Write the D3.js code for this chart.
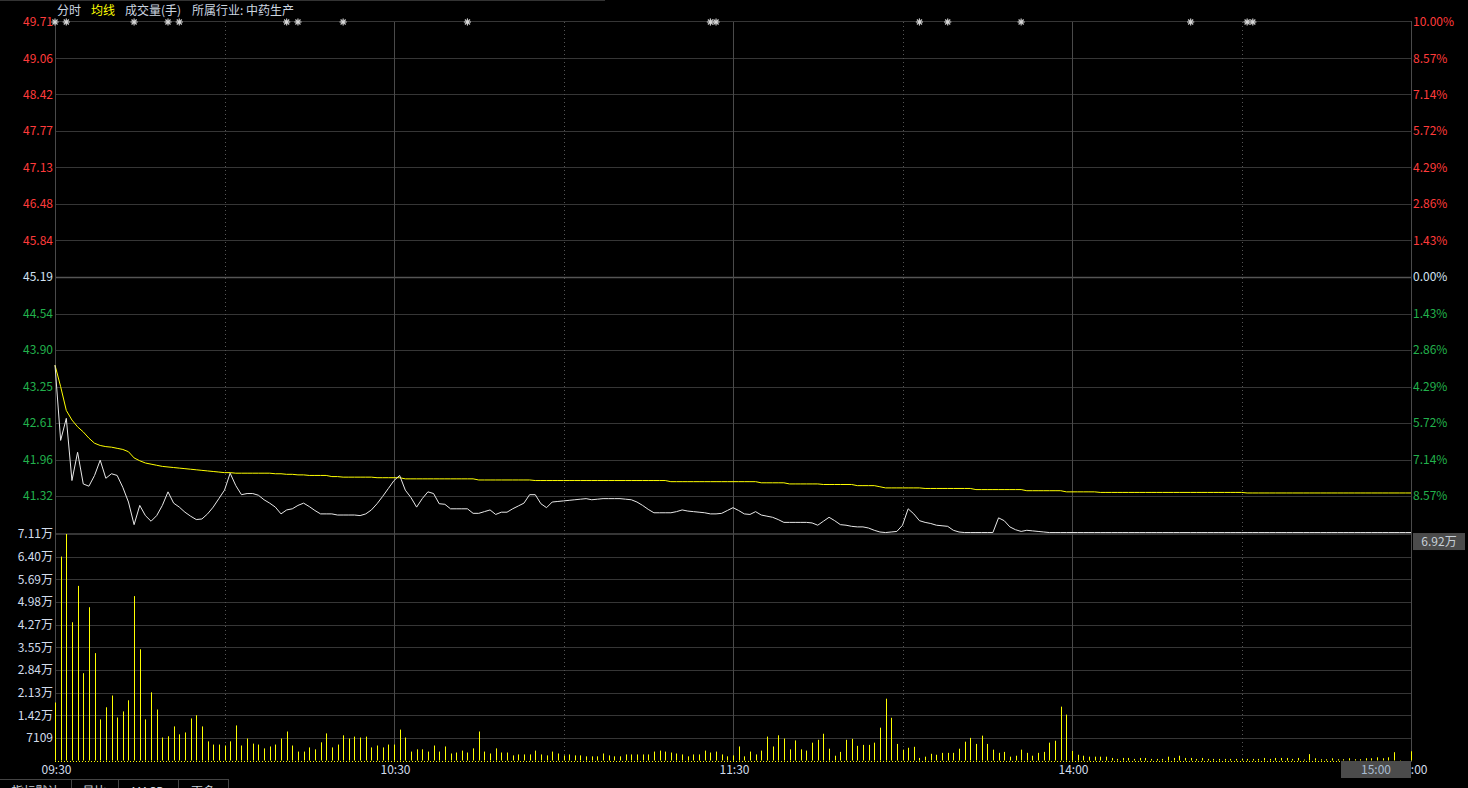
<!DOCTYPE html>
<html>
<head>
<meta charset="utf-8">
<script src="https://cdn.jsdelivr.net/npm/d3@7"></script>
<style>
    body { margin: 0; background: #000; overflow: hidden; }
    svg { display: block; }
    text { font-family: 'Microsoft YaHei', 'Noto Sans CJK SC', sans-serif; font-size: 12px; }
</style>
</head>
<body>
<svg id="chart" width="1468" height="788"></svg>
<script>
const prevClose = 45.19

// left / right axis of the price panel
const priceTicks = [49.71, 49.06, 48.42, 47.77, 47.13, 46.48, 45.84, 45.19, 44.54, 43.90, 43.25, 42.61, 41.96, 41.32, 40.67]
const pctLabels = ['10.00%', '8.57%', '7.14%', '5.72%', '4.29%', '2.86%', '1.43%', '0.00%', '1.43%', '2.86%', '4.29%', '5.72%', '7.14%', '8.57%', '']

// volume axis (hands)
const volTicks = [71090, 63981, 56872, 49763, 42654, 35545, 28436, 21327, 14218, 7109]

// minute index -> label
const timeIdx = [0, 60, 120, 180, 240]
const timeText = ['09:30', '10:30', '11:30', '14:00', '15:00']
const solidIdx = [60, 120, 180]
const dottedIdx = [30, 90, 150, 210]

// event markers (minute index)
const markers = [0, 2, 14, 20, 22, 41, 43, 51, 73, 116, 117, 153, 158, 171, 201, 211, 212]

// one value per minute, 09:30 .. 11:30, 13:01 .. 15:00
const price = [
    43.63, 42.30, 42.69, 41.59, 42.09, 41.53, 41.49, 41.68, 41.95, 41.63,
    41.71, 41.68, 41.47, 41.21, 40.81, 41.15, 40.97, 40.87, 40.97, 41.15,
    41.39, 41.19, 41.12, 41.03, 40.96, 40.90, 40.91, 41.00, 41.12, 41.27,
    41.42, 41.72, 41.50, 41.34, 41.36, 41.36, 41.33, 41.25, 41.19, 41.12,
    41.00, 41.07, 41.09, 41.15, 41.19, 41.13, 41.06, 41.00, 41.00, 41.00,
    40.98, 40.98, 40.98, 40.98, 40.97, 41.00, 41.07, 41.18, 41.31, 41.45,
    41.59, 41.68, 41.42, 41.29, 41.12, 41.27, 41.39, 41.36, 41.18, 41.17,
    41.09, 41.09, 41.09, 41.09, 41.01, 41.01, 41.04, 41.07, 40.99, 41.03,
    41.03, 41.09, 41.14, 41.19, 41.34, 41.34, 41.18, 41.11, 41.21, 41.22,
    41.23, 41.24, 41.25, 41.26, 41.27, 41.25, 41.26, 41.27, 41.27, 41.27,
    41.27, 41.26, 41.25, 41.21, 41.15, 41.08, 41.02, 41.02, 41.02, 41.02,
    41.04, 41.07, 41.05, 41.04, 41.03, 41.02, 41.00, 41.00, 41.01, 41.06,
    41.11, 41.06, 41.00, 40.99, 41.04, 40.98, 40.96, 40.94, 40.90, 40.85,
    40.85, 40.85, 40.85, 40.85, 40.84, 40.80, 40.87, 40.94, 40.88, 40.81,
    40.80, 40.78, 40.77, 40.77, 40.75, 40.71, 40.68, 40.67, 40.68, 40.69,
    40.80, 41.09, 41.00, 40.88, 40.85, 40.83, 40.80, 40.79, 40.78, 40.71,
    40.68, 40.67, 40.67, 40.67, 40.67, 40.67, 40.67, 40.93, 40.88, 40.77,
    40.72, 40.69, 40.71, 40.70, 40.69, 40.68, 40.67, 40.67, 40.67, 40.67,
    40.67, 40.67, 40.67, 40.67, 40.67, 40.67, 40.67, 40.67, 40.67, 40.67,
    40.67, 40.67, 40.67, 40.67, 40.67, 40.67, 40.67, 40.67, 40.67, 40.67,
    40.67, 40.67, 40.67, 40.67, 40.67, 40.67, 40.67, 40.67, 40.67, 40.67,
    40.67, 40.67, 40.67, 40.67, 40.67, 40.67, 40.67, 40.67, 40.67, 40.67,
    40.67, 40.67, 40.67, 40.67, 40.67, 40.67, 40.67, 40.67, 40.67, 40.67,
    40.67, 40.67, 40.67, 40.67, 40.67, 40.67, 40.67, 40.67, 40.67, 40.67,
    40.67
]

const avgPrice = [
    43.63, 43.25, 42.83, 42.66, 42.54, 42.45, 42.34, 42.25, 42.21, 42.19,
    42.18, 42.16, 42.14, 42.10, 41.99, 41.94, 41.90, 41.88, 41.86, 41.84,
    41.83, 41.82, 41.81, 41.80, 41.79, 41.78, 41.77, 41.76, 41.75, 41.74,
    41.73, 41.73, 41.72, 41.72, 41.72, 41.72, 41.72, 41.72, 41.72, 41.71,
    41.71, 41.70, 41.70, 41.69, 41.69, 41.68, 41.68, 41.68, 41.68, 41.66,
    41.66, 41.65, 41.65, 41.65, 41.65, 41.65, 41.65, 41.64, 41.64, 41.64,
    41.64, 41.64, 41.62, 41.62, 41.62, 41.62, 41.62, 41.62, 41.62, 41.62,
    41.62, 41.62, 41.62, 41.62, 41.62, 41.60, 41.60, 41.60, 41.60, 41.60,
    41.60, 41.60, 41.60, 41.60, 41.60, 41.59, 41.59, 41.59, 41.59, 41.59,
    41.59, 41.59, 41.59, 41.59, 41.59, 41.59, 41.59, 41.59, 41.59, 41.59,
    41.59, 41.59, 41.59, 41.59, 41.59, 41.59, 41.59, 41.59, 41.59, 41.57,
    41.57, 41.57, 41.57, 41.57, 41.57, 41.57, 41.57, 41.57, 41.57, 41.57,
    41.57, 41.57, 41.57, 41.57, 41.57, 41.55, 41.55, 41.55, 41.55, 41.55,
    41.53, 41.53, 41.53, 41.53, 41.53, 41.53, 41.52, 41.52, 41.52, 41.52,
    41.52, 41.52, 41.50, 41.50, 41.50, 41.50, 41.48, 41.46, 41.46, 41.46,
    41.46, 41.46, 41.46, 41.46, 41.45, 41.45, 41.45, 41.45, 41.45, 41.45,
    41.45, 41.45, 41.45, 41.43, 41.43, 41.43, 41.43, 41.43, 41.43, 41.43,
    41.43, 41.43, 41.41, 41.41, 41.41, 41.41, 41.41, 41.41, 41.41, 41.39,
    41.39, 41.39, 41.39, 41.39, 41.39, 41.38, 41.38, 41.38, 41.38, 41.38,
    41.38, 41.38, 41.38, 41.38, 41.38, 41.38, 41.38, 41.38, 41.38, 41.38,
    41.38, 41.38, 41.38, 41.38, 41.38, 41.38, 41.38, 41.38, 41.38, 41.38,
    41.38, 41.37, 41.37, 41.37, 41.37, 41.37, 41.37, 41.37, 41.37, 41.37,
    41.37, 41.37, 41.37, 41.37, 41.37, 41.37, 41.37, 41.37, 41.37, 41.37,
    41.37, 41.37, 41.37, 41.37, 41.37, 41.37, 41.37, 41.37, 41.37, 41.37,
    41.37
]

const volume = [
    18200, 64000, 71090, 43400, 54800, 27400, 48100, 33700, 12900, 16700,
    20400, 13500, 15400, 18900, 51600, 34900, 12900, 21400, 16000, 7200,
    7600, 10700, 8200, 8800, 13200, 14200, 10700, 6000, 5000, 5000,
    4700, 6000, 11000, 4700, 6900, 5300, 5000, 3800, 4400, 5000,
    6900, 9100, 4700, 2800, 2800, 4100, 3500, 5700, 8500, 4100,
    5000, 7900, 6900, 7500, 7200, 7500, 4100, 4700, 4100, 5000,
    5000, 9700, 7200, 2800, 3500, 3500, 2800, 4700, 2800, 4400,
    2200, 2500, 3100, 2500, 3800, 9100, 2800, 2200, 3800, 2500,
    2500, 1600, 1900, 1900, 1900, 3100, 1900, 1600, 2800, 2200,
    1600, 1900, 1600, 1600, 1300, 1300, 1300, 2200, 1600, 1300,
    1300, 1900, 1900, 1900, 1900, 1900, 2800, 3100, 2800, 2500,
    2200, 1900, 1300, 1900, 1900, 3100, 2500, 2800, 1900, 1300,
    1600, 4400, 1300, 2800, 1900, 3100, 7500, 4400, 7900, 6900,
    3500, 6300, 3500, 3100, 5600, 6500, 8400, 3700, 1500, 2700,
    6500, 6800, 4600, 4900, 4900, 5600, 10300, 19400, 13400, 5200,
    3400, 4000, 4300, 800, 1200, 2100, 1800, 2400, 2400, 2400,
    3700, 5900, 7100, 5200, 7800, 5200, 3400, 2400, 2700, 1200,
    1500, 3400, 2400, 1500, 2400, 2700, 5600, 6200, 16900, 14400,
    3000, 1800, 1500, 1200, 1200, 1200, 1200, 800, 500, 800,
    800, 500, 800, 800, 500, 500, 500, 1200, 800, 1500,
    800, 800, 500, 800, 500, 500, 500, 500, 500, 500,
    500, 500, 500, 500, 800, 500, 800, 800, 800, 500,
    800, 300, 2000, 700, 400, 400, 700, 400, 400, 700,
    400, 400, 700, 700, 1000, 700, 1000, 2600, 100, 0,
    2900
]

// crosshair readout at the last minute
const crossIdx = 240
const crossVol = 69200

const legendText = ['分时', '均线', '成交量(手)', '所属行业: 中药生产']
const tabText = ['指标默认', '量比', 'MACD', '更多']

const COLORS = {
    grid: '#363636',
    axis: '#4a4a4a',
    up: '#ff3b3b',
    down: '#22b14c',
    flat: '#d2e2f2',
    label: '#d2dcea',
    price: '#e8e8e8',
    avg: '#ffff00',
    vol: '#ffff00'
}

const fmtVol = v => v >= 10000 ? (v / 10000).toFixed(2) + '万' : String(Math.round(v))
const crisp = v => Math.round(v) + 0.5

const svg = d3.select('#chart')
const left = 55
const right = 1411

const x = d3.scaleLinear().domain([0, 240]).range([left, right])
const yPrice = d3.scaleLinear()
    .domain([prevClose * 0.9, prevClose * 1.1])
    .range([532.5, 21.5])
const yVol = d3.scaleLinear().domain([0, 71090]).range([760.5, 534])

svg.append('rect').attr('width', 1468).attr('height', 788).attr('fill', '#000')

// top frame line
svg.append('line')
    .attr('x1', 0).attr('x2', 605).attr('y1', 0.5).attr('y2', 0.5)
    .style('stroke', '#333')

// price grid
svg.append('g').selectAll('line')
    .data(priceTicks)
    .join('line')
    .attr('x1', left).attr('x2', right)
    .attr('y1', d => crisp(yPrice(d))).attr('y2', d => crisp(yPrice(d)))
    .style('stroke', d => d === prevClose ? '#555' : COLORS.grid)
    .style('stroke-width', d => d === prevClose ? 1.5 : 1)

// volume grid
svg.append('g').selectAll('line')
    .data(volTicks)
    .join('line')
    .attr('x1', left).attr('x2', right)
    .attr('y1', d => crisp(yVol(d))).attr('y2', d => crisp(yVol(d)))
    .style('stroke', COLORS.grid)

// vertical grid
svg.append('g').selectAll('line')
    .data(solidIdx)
    .join('line')
    .attr('x1', d => crisp(x(d))).attr('x2', d => crisp(x(d)))
    .attr('y1', 22).attr('y2', 761)
    .style('stroke', COLORS.axis)

svg.append('g').selectAll('line')
    .data(dottedIdx)
    .join('line')
    .attr('x1', d => crisp(x(d))).attr('x2', d => crisp(x(d)))
    .attr('y1', 22).attr('y2', 761)
    .style('stroke', '#555')
    .style('stroke-dasharray', '1,3')

// axis frame
;[left, right].forEach(px => {
    svg.append('line')
        .attr('x1', px + 0.5).attr('x2', px + 0.5)
        .attr('y1', 21).attr('y2', 762)
        .style('stroke', COLORS.axis)
})

// zero-volume baseline
svg.append('line')
    .attr('x1', left).attr('x2', right)
    .attr('y1', crisp(yVol(0))).attr('y2', crisp(yVol(0)))
    .style('stroke', COLORS.vol)
    .style('stroke-dasharray', '1,2')

// price labels left
svg.append('g').selectAll('text')
    .data(priceTicks.slice(0, -1))
    .join('text')
    .attr('x', 53)
    .attr('y', d => yPrice(d))
    .attr('dy', '0.36em')
    .attr('text-anchor', 'end')
    .attr('fill', d => d > prevClose ? COLORS.up : d < prevClose ? COLORS.down : COLORS.flat)
    .text(d => d.toFixed(2))

// percent labels right
svg.append('g').selectAll('text')
    .data(priceTicks.map((d, i) => ({ p: d, t: pctLabels[i] })).filter(d => d.t))
    .join('text')
    .attr('x', 1413)
    .attr('y', d => yPrice(d.p))
    .attr('dy', '0.36em')
    .attr('fill', d => d.p > prevClose ? COLORS.up : d.p < prevClose ? COLORS.down : COLORS.flat)
    .text(d => d.t)

// volume labels
svg.append('g').selectAll('text')
    .data(volTicks)
    .join('text')
    .attr('x', 53)
    .attr('y', d => yVol(d))
    .attr('dy', '0.36em')
    .attr('text-anchor', 'end')
    .attr('fill', COLORS.label)
    .text(d => fmtVol(d))

// volume bars
svg.append('g').selectAll('line')
    .data(volume)
    .join('line')
    .attr('x1', (d, i) => crisp(x(i))).attr('x2', (d, i) => crisp(x(i)))
    .attr('y1', yVol(0)).attr('y2', d => yVol(d))
    .style('stroke', COLORS.vol)

// average line and price line
const line = d3.line().x((d, i) => x(i)).y(d => yPrice(d))

svg.append('path')
    .datum(avgPrice)
    .attr('d', line)
    .attr('fill', 'none')
    .style('stroke', COLORS.avg)
    .style('stroke-width', 1)

svg.append('path')
    .datum(price)
    .attr('d', line)
    .attr('fill', 'none')
    .style('stroke', COLORS.price)
    .style('stroke-width', 1)

// event markers along the top
const star = svg.append('g').selectAll('g')
    .data(markers)
    .join('g')
    .attr('transform', d => `translate(${x(d)}, 22)`)

star.each((d, i, nodes) => {
    const g = d3.select(nodes[i])
    d3.range(4).forEach(k => {
        const a = k * Math.PI / 4
        g.append('line')
            .attr('x1', -3.6 * Math.cos(a)).attr('y1', -3.6 * Math.sin(a))
            .attr('x2', 3.6 * Math.cos(a)).attr('y2', 3.6 * Math.sin(a))
            .style('stroke', '#c8c8c8')
            .style('stroke-width', 1.2)
    })
    g.append('circle').attr('r', 1.6).attr('fill', '#d8d8d8')
})

// time labels
svg.append('g').selectAll('text')
    .data(timeIdx)
    .join('text')
    .attr('x', d => x(d) + 1.5)
    .attr('y', 770)
    .attr('dy', '0.36em')
    .attr('text-anchor', 'middle')
    .attr('fill', COLORS.label)
    .text((d, i) => timeText[i])

// legend
const legendX = [57, 91, 125, 192]
svg.append('g').selectAll('text')
    .data(legendText)
    .join('text')
    .attr('x', (d, i) => legendX[i])
    .attr('y', 11)
    .attr('dy', '0.36em')
    .attr('fill', (d, i) => i === 1 ? COLORS.avg : '#ccd6e0')
    .text(d => d)

// crosshair readouts
const volY = yVol(crossVol)
svg.append('rect')
    .attr('x', 1413).attr('y', volY - 7).attr('width', 52).attr('height', 17)
    .attr('fill', '#4b4b4b')
svg.append('text')
    .attr('x', 1439).attr('y', volY + 1.5).attr('dy', '0.36em')
    .attr('text-anchor', 'middle')
    .attr('fill', '#c8d0d8')
    .text(fmtVol(crossVol))

svg.append('rect')
    .attr('x', x(crossIdx) - 70).attr('y', 761).attr('width', 70).attr('height', 17)
    .attr('fill', '#4b4b4b')
svg.append('text')
    .attr('x', x(crossIdx) - 35).attr('y', 769.5).attr('dy', '0.36em')
    .attr('text-anchor', 'middle')
    .attr('fill', '#a8bcd2')
    .text(timeText[timeIdx.indexOf(crossIdx)])

// bottom tabs, cut by the window edge
const tabX = [0, 71, 118, 178, 228]
svg.append('line')
    .attr('x1', 0).attr('x2', 228).attr('y1', 779.5).attr('y2', 779.5)
    .style('stroke', '#444')
svg.append('g').selectAll('line')
    .data(tabX.slice(1))
    .join('line')
    .attr('x1', d => d + 0.5).attr('x2', d => d + 0.5)
    .attr('y1', 779).attr('y2', 788)
    .style('stroke', '#444')
svg.append('g').selectAll('text')
    .data(tabText)
    .join('text')
    .attr('x', (d, i) => (tabX[i] + tabX[i + 1]) / 2)
    .attr('y', 796)
    .attr('text-anchor', 'middle')
    .attr('fill', '#c8d0d8')
    .text(d => d)
</script>
</body>
</html>
